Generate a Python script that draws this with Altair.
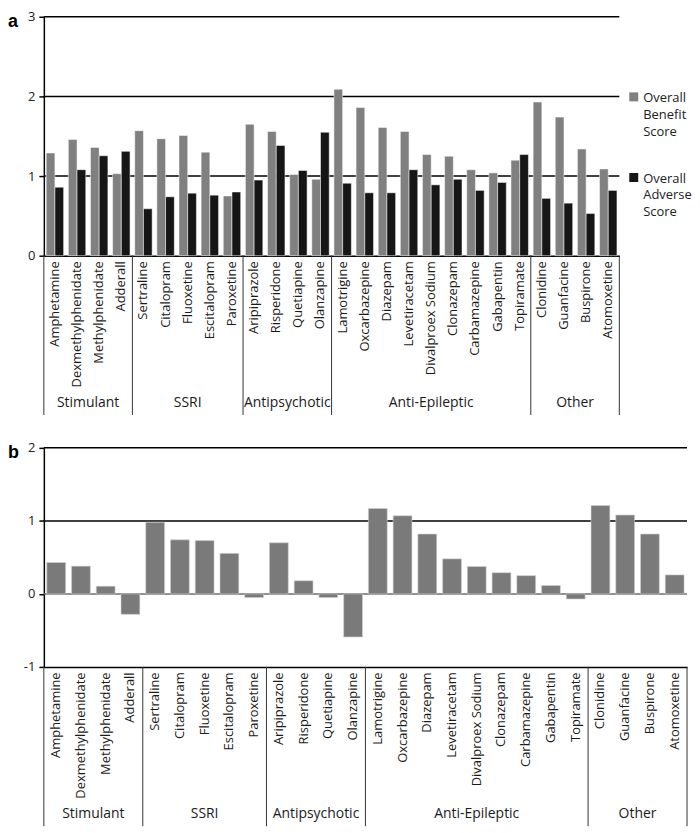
import altair as alt
import pandas as pd

drugs = ["Amphetamine", "Dexmethylphenidate", "Methylphenidate", "Adderall",
         "Sertraline", "Citalopram", "Fluoxetine", "Escitalopram", "Paroxetine",
         "Aripiprazole", "Risperidone", "Quetiapine", "Olanzapine",
         "Lamotrigine", "Oxcarbazepine", "Diazepam", "Levetiracetam", "Divalproex Sodium",
         "Clonazepam", "Carbamazepine", "Gabapentin", "Topiramate",
         "Clonidine", "Guanfacine", "Buspirone", "Atomoxetine"]
groups = ["Stimulant", "SSRI", "Antipsychotic", "Anti-Epileptic", "Other"]
group_sizes = [4, 5, 4, 9, 4]

benefit = [1.29, 1.46, 1.36, 1.03,
           1.57, 1.47, 1.51, 1.30, 0.75,
           1.65, 1.56, 1.02, 0.96,
           2.09, 1.86, 1.61, 1.56, 1.27, 1.25, 1.08, 1.04, 1.20,
           1.93, 1.74, 1.34, 1.09]
adverse = [0.86, 1.08, 1.255, 1.31,
           0.59, 0.74, 0.785, 0.76, 0.80,
           0.95, 1.385, 1.07, 1.55,
           0.91, 0.79, 0.79, 1.08, 0.89, 0.96, 0.82, 0.92, 1.27,
           0.72, 0.66, 0.53, 0.82]
difference = [0.43, 0.38, 0.105, -0.28,
              0.98, 0.74, 0.73, 0.555, -0.05,
              0.70, 0.18, -0.05, -0.59,
              1.17, 1.07, 0.82, 0.48, 0.375, 0.29, 0.25, 0.115, -0.07,
              1.21, 1.08, 0.82, 0.26]

series_names = ["Overall Benefit Score", "Overall Adverse Score"]
series_colors = ["#808080", "#161616"]
grid_a = [1, 2, 3]
grid_b = [1, 2]
ticks_a = [0, 0.5, 1, 1.5, 2, 2.5, 3]
ticks_b = [-1, -0.5, 0, 0.5, 1, 1.5, 2]

FONT = "Open Sans"
N = len(drugs)
bounds = [0]
for s in group_sizes:
    bounds.append(bounds[-1] + s)
mids = [(bounds[i] + bounds[i + 1]) / 2 for i in range(len(groups))]

sep_df = pd.DataFrame({"b": bounds})
grp_df = pd.DataFrame({"group": groups, "mid": mids})


def x_axis():
    return alt.Axis(title=None, labelAngle=-90, ticks=False, domainColor="black",
                    domainWidth=1.5, labelFont=FONT, labelFontSize=13,
                    labelColor="#1a1a1a", labelPadding=5, labelOverlap=False,
                    labelLimit=200)


def y_axis(vals):
    return alt.Axis(title=None, values=vals,
                    labelExpr="datum.value % 1 == 0 ? '' + datum.value : ''",
                    grid=False, domainColor="black", domainWidth=1.5,
                    tickColor="black", tickSize=5, tickWidth=1.5,
                    labelFont=FONT, labelFontSize=13, labelColor="#222",
                    labelPadding=4)


def extras(H, letter):
    idx_scale = alt.Scale(domain=[0, N], nice=False, zero=False)
    seps = alt.Chart(sep_df).mark_rule(color="#333", strokeWidth=1).encode(
        x=alt.X("b:Q", scale=idx_scale, axis=None),
        y=alt.value(H), y2=alt.value(H + 160))
    glab = alt.Chart(grp_df).mark_text(font=FONT, fontSize=14, color="#1a1a1a",
                                       baseline="middle").encode(
        x=alt.X("mid:Q", scale=idx_scale, axis=None),
        y=alt.value(H + 148), text="group:N")
    let = alt.Chart(pd.DataFrame({"t": [letter]})).mark_text(
        font="Liberation Sans", fontSize=18, fontWeight="bold", align="left",
        baseline="middle", color="black").encode(
        x=alt.value(-36), y=alt.value(5), text="t:N")
    return seps, glab, let


# Panel a
W_A, H_A = 578, 240
df_a = pd.DataFrame({
    "drug": drugs * 2,
    "series": [series_names[0]] * N + [series_names[1]] * N,
    "value": benefit + adverse,
})
gl_a = alt.Chart(pd.DataFrame({"v": grid_a})).mark_rule(
    color="black", strokeWidth=1.5).encode(
    y=alt.Y("v:Q", scale=alt.Scale(domain=[0, 3], nice=False), axis=y_axis(ticks_a)))
bars_a = alt.Chart(df_a).mark_bar(stroke="white", strokeWidth=0.5).encode(
    x=alt.X("drug:N", sort=drugs, axis=x_axis(),
            scale=alt.Scale(paddingInner=0, paddingOuter=0)),
    xOffset=alt.XOffset("series:N", sort=series_names,
                        scale=alt.Scale(paddingInner=0, paddingOuter=0.27)),
    y=alt.Y("value:Q", scale=alt.Scale(domain=[0, 3], nice=False)),
    color=alt.Color("series:N", sort=series_names,
                    scale=alt.Scale(domain=series_names, range=series_colors),
                    legend=alt.Legend(title=None, orient="none", legendX=W_A + 8,
                                      legendY=69,
                                      symbolType="M-1,0.1H1V2.1H-1Z",
                                      symbolSize=81, symbolStrokeWidth=0,
                                      labelExpr="split(datum.label, ' ')",
                                      labelFont=FONT, labelFontSize=13,
                                      labelColor="#222", labelBaseline="top",
                                      labelOffset=3, rowPadding=27)),
)
seps_a, glab_a, let_a = extras(H_A, "a")
panel_a = alt.layer(gl_a, bars_a, seps_a, glab_a, let_a).resolve_scale(
    x="independent").properties(width=W_A, height=H_A)

# Panel b
W_B, H_B = 646, 220
df_b = pd.DataFrame({"drug": drugs, "value": difference})
gl_b = alt.Chart(pd.DataFrame({"v": grid_b})).mark_rule(
    color="black", strokeWidth=1.5).encode(
    y=alt.Y("v:Q", scale=alt.Scale(domain=[-1, 2], nice=False), axis=y_axis(ticks_b)))
zero_b = alt.Chart(pd.DataFrame({"v": [0]})).mark_rule(
    color="#6e6e6e", strokeWidth=1.5).encode(y="v:Q")
bars_b = alt.Chart(df_b).mark_bar(color="#7a7a7a", stroke="#d0d0d0",
                                  strokeWidth=0.6).encode(
    x=alt.X("drug:N", sort=drugs, axis=x_axis(),
            scale=alt.Scale(paddingInner=0.24, paddingOuter=0.12)),
    y=alt.Y("value:Q", scale=alt.Scale(domain=[-1, 2], nice=False)),
)
seps_b, glab_b, let_b = extras(H_B, "b")
panel_b = alt.layer(gl_b, zero_b, bars_b, seps_b, glab_b, let_b).resolve_scale(
    x="independent").properties(width=W_B, height=H_B)

chart = alt.vconcat(panel_a, panel_b, spacing=26).properties(
    padding={"top": 1, "left": 0, "right": 0, "bottom": 0}
).configure(style={"guide-label": {"lineHeight": 17}}).configure_view(stroke=None)

chart.save("out.html", embed_options={"renderer": "svg", "actions": False})
